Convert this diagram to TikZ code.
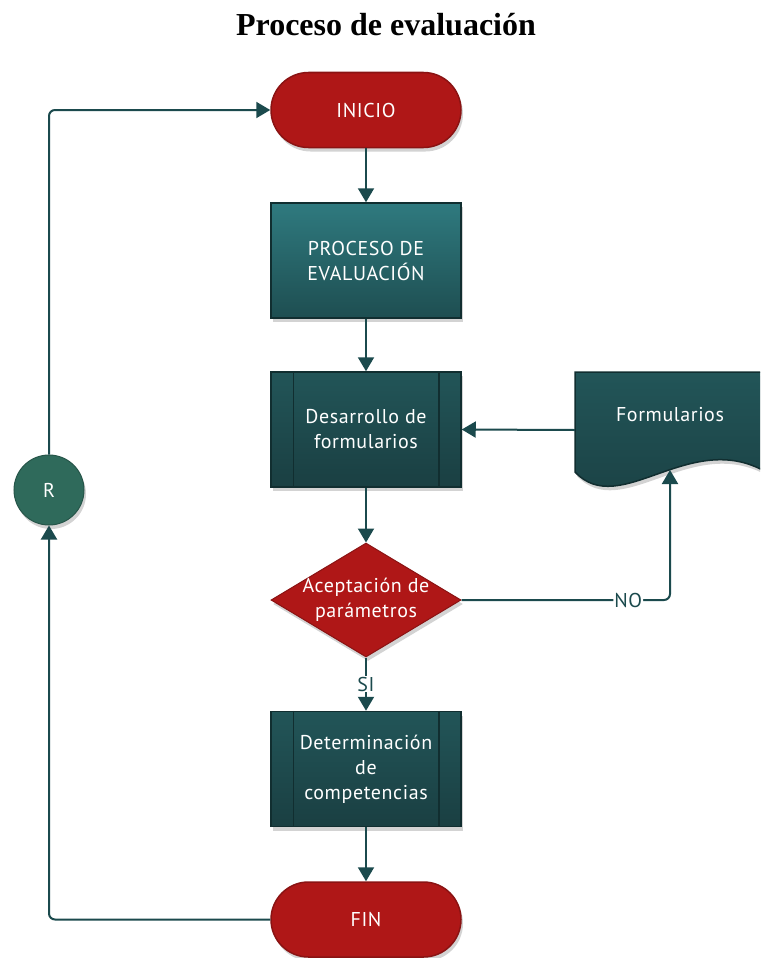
\documentclass[tikz,border=0pt]{standalone}
\usepackage{fontspec}
\setmainfont{PT Sans}[LetterSpace=3]
\newfontfamily\titlefont{Liberation Serif}
\usetikzlibrary{arrows.meta,shapes.geometric,shadows,calc}
\definecolor{redfill}{HTML}{AF1717}
\definecolor{redline}{HTML}{8A1313}
\definecolor{tealtop}{HTML}{2F7A7F}
\definecolor{tealbot}{HTML}{1E4E51}
\definecolor{darktop}{HTML}{225558}
\definecolor{darkbot}{HTML}{1A3F42}
\definecolor{darkline}{HTML}{112E30}
\definecolor{conn}{HTML}{1B4A4D}
\definecolor{rfill}{HTML}{2F6A5B}
\tikzset{
  shad/.style={drop shadow={opacity=0.35,shadow xshift=2pt,shadow yshift=-4pt}},
  txt/.style={text=white,font=\fontsize{20}{25}\selectfont,align=center},
  terminal/.style={shad,txt,rectangle,rounded corners=37.5pt,fill=redfill,draw=redline,line width=1.5pt,minimum width=190pt,minimum height=75pt,inner sep=0pt},
  procbox/.style={shad,txt,rectangle,top color=tealtop,bottom color=tealbot,draw=darkline,line width=1.5pt,minimum width=190pt,minimum height=115pt,inner sep=0pt},
  subbox/.style={shad,txt,rectangle,top color=darktop,bottom color=darkbot,draw=darkline,line width=1.5pt,minimum width=190pt,minimum height=115pt,inner sep=0pt},
  decbox/.style={shad,diamond,fill=redfill,draw=redline,line width=1pt,minimum width=190pt,minimum height=114pt,inner sep=0pt},
  conbox/.style={shad,circle,fill=rfill,draw=rfill!80!black,line width=1pt,minimum size=70pt,inner sep=0pt,text=white,font=\fontsize{20}{24}\selectfont},
  arr/.style={draw=conn,line width=2pt,-{Triangle[length=14pt,width=16pt]}},
  lbl/.style={fill=white,inner sep=1pt,text=conn,font=\fontsize{20}{24}\selectfont}
}
\begin{document}
\begin{tikzpicture}[x=1pt,y=-1pt]
\useasboundingbox (0,0) rectangle (760,958);
\clip (0,0) rectangle (760,958);
\node (title) at (386,25) {\titlefont\bfseries\fontsize{32}{36}\selectfont Proceso de evaluación};

\node[terminal] (ini) at (366,110) {INICIO};
\node[procbox] (proc) at (366,260.5) {PROCESO DE\\EVALUACIÓN};
\node[subbox] (des) at (366,429.5) {Desarrollo de\\formularios};
\draw[darkline,line width=1.5pt] ([xshift=23pt]des.north west) -- ([xshift=23pt]des.south west);
\draw[darkline,line width=1.5pt] ([xshift=-23pt]des.north east) -- ([xshift=-23pt]des.south east);
\node[decbox] (dec) at (366,600) {};
\node[txt] (dectxt) at (dec.center) {Aceptación de\\parámetros};
\node[subbox] (det) at (366,769) {Determinación\\de\\competencias};
\draw[darkline,line width=1.5pt] ([xshift=23pt]det.north west) -- ([xshift=23pt]det.south west);
\draw[darkline,line width=1.5pt] ([xshift=-23pt]det.north east) -- ([xshift=-23pt]det.south east);
\node[terminal] (fin) at (366,919.5) {FIN};
\node[conbox] (r) at (49,490) {R};

% document shape
\path[shad,top color=darktop,bottom color=darkbot,draw=darkline,line width=1.5pt]
  (575,372) -- (766,372) -- (766,472) .. controls (690,428) and (620,520) .. (575,472) -- cycle;
\node[minimum width=190pt,minimum height=116pt,inner sep=0pt] (form) at (670,430) {};
\node[txt] (formtxt) at (670,415) {Formularios};
\coordinate (formbot) at (670,470);

\draw[arr] (ini) -- (proc);
\draw[arr] (proc) -- (des);
\draw[arr] (form.west) -- (des.east);
\draw[arr] (des) -- (dec);
\draw[arr] (dec.south) -- node[lbl] {SI} (det.north);
\draw[arr] (det) -- (fin);
\draw[arr,rounded corners=6pt] (dec.east) -| node[lbl,pos=0.4] {NO} (formbot);
\draw[arr,rounded corners=6pt] (fin.west) -| (r.south);
\draw[arr,rounded corners=6pt] (r.north) |- (ini.west);
\end{tikzpicture}
\end{document}
